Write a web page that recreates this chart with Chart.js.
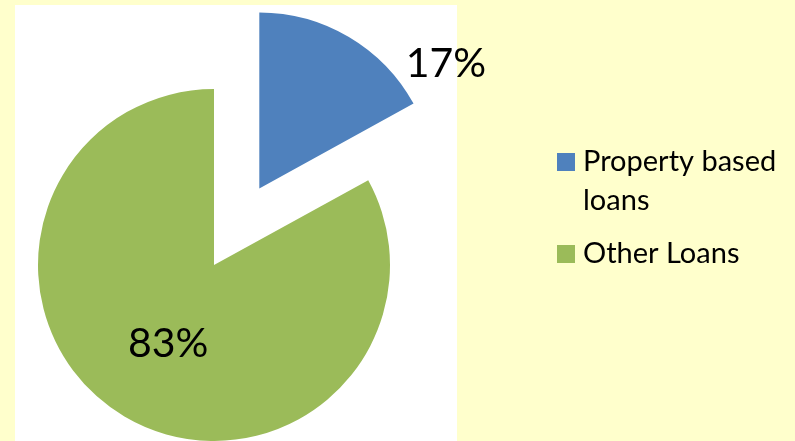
<!DOCTYPE html>
<html>
<head>
<meta charset="utf-8">
<script src="https://cdn.jsdelivr.net/npm/chart.js@4.4.1/dist/chart.umd.min.js"></script>
<style>
	html, body { margin: 0; padding: 0; background: #FFFFCC; overflow: hidden; }
	#wrap { position: relative; width: 795px; height: 441px; }
</style>
</head>
<body>
<div id="wrap"><canvas id="myChartPie"></canvas></div>
<script>
var labels = ["Property based loans", "Other Loans"];
var values = [17, 83];
var colors = ["#4F81BD", "#9BBB59"];

// white plot area behind the pie
var plotBg = {
	id: 'plotBg',
	beforeDraw: function(chart, args, opts) {
		var ctx = chart.ctx;
		ctx.save();
		ctx.fillStyle = '#FFFFFF';
		ctx.fillRect(opts.left, opts.top, opts.width, opts.height);
		ctx.restore();
	}
};

// pull slices out along their middle angle
var explode = {
	id: 'explode',
	beforeDatasetDraw: function(chart, args, opts) {
		var ctx = chart.ctx;
		args.meta.data.forEach(function(arc, i) {
			var d = opts.distance[i] || 0;
			var mid = (arc.startAngle + arc.endAngle) / 2;
			ctx.save();
			ctx.translate(Math.cos(mid) * d, Math.sin(mid) * d);
			arc.draw(ctx);
			ctx.restore();
		});
		return false;
	}
};

// percentage labels
var pctLabels = {
	id: 'pctLabels',
	afterDatasetsDraw: function(chart, args, opts) {
		var ctx = chart.ctx;
		var meta = chart.getDatasetMeta(0);
		var data = chart.data.datasets[0].data;
		var total = data.reduce(function(a, b) { return a + b; }, 0);
		var dist = chart.options.plugins.explode.distance;
		ctx.save();
		ctx.font = opts.font;
		ctx.fillStyle = '#000';
		ctx.textAlign = 'center';
		ctx.textBaseline = 'middle';
		meta.data.forEach(function(arc, i) {
			var mid = (arc.startAngle + arc.endAngle) / 2;
			var d = dist[i] || 0;
			var r = arc.outerRadius;
			var x = arc.x + Math.cos(mid) * d + opts.pos[i][0] * r;
			var y = arc.y + Math.sin(mid) * d + opts.pos[i][1] * r;
			ctx.fillText(Math.round(data[i] / total * 100) + '%', x, y);
		});
		ctx.restore();
	}
};

// legend on the right, with wrapped text
var sideLegend = {
	id: 'sideLegend',
	afterDraw: function(chart, args, opts) {
		var ctx = chart.ctx;
		ctx.save();
		ctx.font = opts.font;
		ctx.textBaseline = 'alphabetic';
		var y = opts.top;
		chart.data.labels.forEach(function(text, i) {
			var words = text.split(' ');
			var lines = [];
			var line = '';
			words.forEach(function(w) {
				var test = line ? line + ' ' + w : w;
				if (line && ctx.measureText(test).width > opts.maxWidth) {
					lines.push(line);
					line = w;
				} else {
					line = test;
				}
			});
			lines.push(line);
			ctx.fillStyle = chart.data.datasets[0].backgroundColor[i];
			ctx.fillRect(opts.left, y - opts.box, opts.box, opts.box);
			ctx.fillStyle = '#000';
			lines.forEach(function(l, j) {
				ctx.fillText(l, opts.left + opts.box + opts.gap, y + j * opts.lineHeight);
			});
			y += (lines.length - 1) * opts.lineHeight + opts.itemGap;
		});
		ctx.restore();
	}
};

var ctxPie = document.getElementById('myChartPie').getContext('2d');
var myChartPie = new Chart(ctxPie, {
	type: 'pie',
	data: {
		labels: labels,
		datasets: [{
			data: values,
			backgroundColor: colors,
			borderWidth: 0,
			hoverOffset: 0,
			clip: false
		}]
	},
	options: {
		responsive: true,
		maintainAspectRatio: false,
		animation: false,
		events: [],
		layout: { padding: { left: 38, top: 89, right: 405, bottom: 0 } },
		plugins: {
			legend: { display: false },
			tooltip: { enabled: false },
			plotBg: { left: 15, top: 5, width: 442, height: 436 },
			explode: { distance: [89, 0] },
			pctLabels: { font: '41px Lato', pos: [[1.06, -0.71], [-0.26, 0.45]] },
			sideLegend: { font: '29px Lato', left: 557, top: 171, box: 18, gap: 8, maxWidth: 210, lineHeight: 39, itemGap: 53 }
		}
	},
	plugins: [plotBg, explode, pctLabels, sideLegend]
});
</script>
</body>
</html>
